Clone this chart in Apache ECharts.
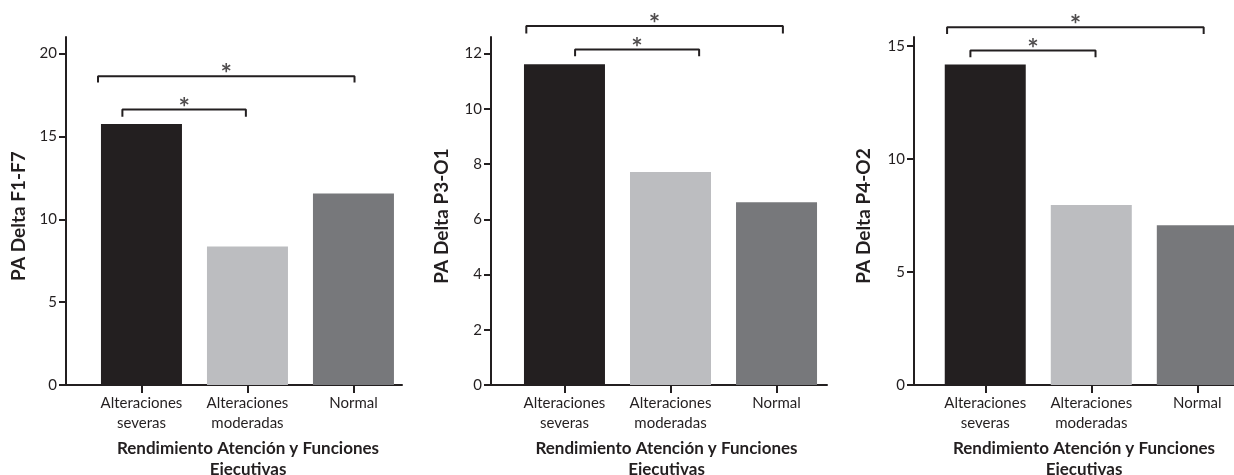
<!DOCTYPE html>
<html>
<head>
<meta charset="utf-8">
<script src="https://cdn.jsdelivr.net/npm/echarts@6/dist/echarts.min.js"></script>
<style>
  html, body { margin: 0; padding: 0; background: #fff; }
  #chart { width: 1234px; height: 475px; }
</style>
</head>
<body>
<div id="chart"></div>
<script>
// categorias del eje x
var categories = ['Alteraciones\nseveras', 'Alteraciones\nmoderadas', 'Normal'];
var barColors = ['#231f20', '#bcbdc0', '#77787b'];

// valores de cada panel
var valuesF1F7 = [15.75, 8.36, 11.55];
var valuesP3O1 = [11.61, 7.71, 6.62];
var valuesP4O2 = [14.18, 7.96, 7.07];

// ticks del eje y
var ticksF1F7 = [0, 5, 10, 15, 20];
var ticksP3O1 = [0, 2, 4, 6, 8, 10, 12];
var ticksP4O2 = [0, 5, 10, 15];

// corchetes de significancia: [x1, x2, yTop, yBottom]
var bracketsF1F7 = [[-0.18, 0.985, 16.62, 16.19], [-0.41, 2.01, 18.63, 18.25]];
var bracketsP3O1 = [[0.10, 1.27, 12.15, 11.90], [-0.36, 2.06, 13.00, 12.73]];
var bracketsP4O2 = [[-0.14, 1.04, 14.80, 14.50], [-0.36, 2.06, 15.83, 15.53]];

var yNames = ['PA Delta F1-F7', 'PA Delta P3-O1', 'PA Delta P4-O2'];
var xName = 'Rendimiento Atención y Funciones\nEjecutivas';

var ink = '#231f20';
var font = 'Lato, "Noto Sans", sans-serif';

var panels = [
    {values: valuesF1F7, ticks: ticksF1F7, brackets: bracketsF1F7, yMax: 21,   xMin: -0.712, xMax: 2.458, left: 66,  right: 832, nameGap: 38, namePad: 28},
    {values: valuesP3O1, ticks: ticksP3O1, brackets: bracketsP3O1, yMax: 12.6, xMin: -0.693, xMax: 2.476, left: 491, right: 407, nameGap: 40, namePad: 15},
    {values: valuesP4O2, ticks: ticksP4O2, brackets: bracketsP4O2, yMax: 15.4, xMin: -0.672, xMax: 2.346, left: 914, right: 0,   nameGap: 41, namePad: 20}
];

var grids = [], xAxes = [], yAxes = [], series = [];

panels.forEach(function (p, i) {
    grids.push({left: p.left, right: p.right, top: 37, bottom: 90, outerBoundsMode: 'none', containLabel: false});

    xAxes.push({
        type: 'value',
        gridIndex: i,
        min: p.xMin,
        max: p.xMax,
        splitLine: {show: false},
        axisLine: {show: true, onZero: false, lineStyle: {color: ink, width: 2}},
        axisTick: {show: true, length: 8, lineStyle: {color: ink, width: 2}, customValues: [0, 1, 2]},
        axisLabel: {
            customValues: [0, 1, 2],
            margin: 8,
            color: ink,
            fontFamily: font,
            fontSize: 15,
            lineHeight: 20,
            formatter: function (v) { return categories[Math.round(v)]; }
        },
        name: xName,
        nameLocation: 'middle',
        nameGap: 51,
        nameTextStyle: {
            color: ink, fontFamily: font, fontSize: 17, fontWeight: 'bold',
            lineHeight: 21, padding: [0, 0, 0, p.namePad]
        }
    });

    yAxes.push({
        type: 'value',
        gridIndex: i,
        min: 0,
        max: p.yMax,
        splitLine: {show: false},
        axisLine: {show: true, onZero: false, lineStyle: {color: ink, width: 2}},
        axisTick: {show: true, length: 7, lineStyle: {color: ink, width: 2}, customValues: p.ticks},
        axisLabel: {customValues: p.ticks, margin: 9, color: ink, fontFamily: font, fontSize: 15},
        name: yNames[i],
        nameLocation: 'middle',
        nameRotate: 90,
        nameGap: p.nameGap,
        nameTextStyle: {color: ink, fontFamily: font, fontSize: 19, fontWeight: 'bold', padding: [0, 10, 0, 0]}
    });

    series.push({
        type: 'bar',
        xAxisIndex: i,
        yAxisIndex: i,
        barWidth: 81,
        silent: true,
        data: p.values.map(function (v, k) {
            return {value: [k, v], itemStyle: {color: barColors[k]}};
        })
    });

    p.brackets.forEach(function (b) {
        series.push({
            type: 'line',
            xAxisIndex: i,
            yAxisIndex: i,
            symbol: 'none',
            clip: false,
            silent: true,
            lineStyle: {color: ink, width: 2},
            data: [[b[0], b[3]], [b[0], b[2]], [b[1], b[2]], [b[1], b[3]]]
        });
        series.push({
            type: 'scatter',
            xAxisIndex: i,
            yAxisIndex: i,
            symbolSize: 0,
            clip: false,
            silent: true,
            label: {
                show: true, position: 'top', distance: -12,
                formatter: '*', color: ink, fontFamily: font, fontSize: 27, fontWeight: 'bold'
            },
            data: [[(b[0] + b[1]) / 2, b[2]]]
        });
    });
});

var option = {
    animation: false,
    backgroundColor: '#fff',
    grid: grids,
    xAxis: xAxes,
    yAxis: yAxes,
    series: series
};

echarts.init(document.getElementById('chart')).setOption(option);
</script>
</body>
</html>
